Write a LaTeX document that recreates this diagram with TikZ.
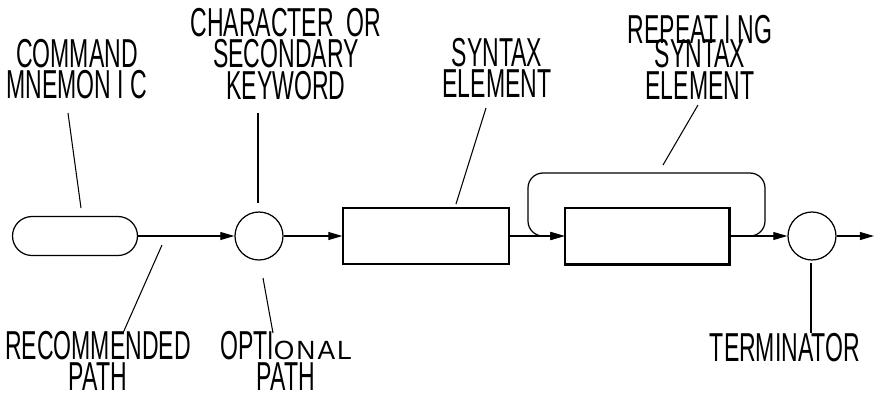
\documentclass[tikz,border=0pt]{standalone}
\usepackage{fontspec}
\setmainfont{Liberation Sans}
\newfontfamily\narrowfont[FakeStretch=0.57]{Liberation Sans}
\newfontfamily\spacedfont[LetterSpace=8]{Liberation Sans}
\newcommand\lblfont{\fontsize{23}{18}\narrowfont\lineskiplimit=-20pt\relax}
\usetikzlibrary{arrows.meta,positioning}
\tikzset{
  every picture/.style={line width=0.7pt},
  lbl/.style={font=\lblfont,align=center,inner sep=0pt},
  pill/.style={draw,rounded corners=0.39cm,minimum width=2.5cm,minimum height=0.78cm},
  junction/.style={draw,circle,minimum size=0.96cm,inner sep=0pt},
  elem/.style={draw,minimum width=3.32cm,minimum height=1.12cm,inner sep=0pt},
  flow/.style={-{Triangle[length=8pt,width=4.5pt]}},
  lead/.style={line width=0.6pt},
}
\begin{document}
\begin{tikzpicture}[x=0.02cm,y=-0.02cm]
  \useasboundingbox (0,0) rectangle (877,397);
  % the path elements
  \node[pill] (cmd) at (75,236) {};
  \node[junction] (key) at (259,236) {};
  \node[elem] (syn) at (426,236) {};
  \node[elem,minimum width=3.28cm] (rep) at (647,236) {};
  \node[junction] (term) at (812,236) {};
  \coordinate (out) at (874,236);
  \draw[line width=1.3pt] (rep.south west) -- (rep.south east) -- (rep.north east);
  % main flow
  \draw[flow] (cmd) -- (key);
  \draw[flow] (key) -- (syn);
  \draw[flow] (syn) -- (rep);
  \draw[flow] (rep) -- (term);
  \draw[flow] (term) -- (out);
  % loop back over the repeating element
  \draw[flow,rounded corners=0.3cm] (rep.east) -- (765,236) -- (765,173) -- (528,173) -- (528,236) -- (rep.west);
  % labels
  \node[lbl] (cmdlbl) at (77,69) {COMMAND\\MNEMON I C};
  \node[lbl] (keylbl) at (286,54) {CHARACTER\ \ OR\\SECONDARY\\KEYWORD};
  \node[lbl] (synlbl) at (497,68) {SYNTAX\\ELEMENT};
  \node[lbl] (replbl) at (700,57) {REPEAT I NG\\[-4pt]SYNTAX\\ELEMENT};
  \node[lbl] (reclbl) at (98,361) {RECOMMENDED\\PATH};
  \node[lbl] (optlbl) at (286,361) {OPTI{\fontsize{15}{15}\spacedfont ONAL}\\PATH};
  \node[lbl] (termlbl) at (785,348) {TERMINATOR};
  % leader lines
  \coordinate (cmdA) at (68,113);  \coordinate (cmdB) at (81,208);
  \coordinate (keyA) at (258,113); \coordinate (keyB) at (258,203);
  \coordinate (synA) at (486,108); \coordinate (synB) at (456,204);
  \coordinate (repA) at (698,105); \coordinate (repB) at (663,165);
  \coordinate (recA) at (162,245); \coordinate (recB) at (123,333);
  \coordinate (optA) at (263,278); \coordinate (optB) at (273,333);
  \coordinate (termA) at (811,263); \coordinate (termB) at (811,333);
  \draw[lead] (cmdA) -- (cmdB);
  \draw[lead] (keyA) -- (keyB);
  \draw[lead] (synA) -- (synB);
  \draw[lead] (repA) -- (repB);
  \draw[lead] (recA) -- (recB);
  \draw[lead] (optA) -- (optB);
  \draw[lead,line width=1.2pt] (termA) -- (termB);
\end{tikzpicture}
\end{document}
